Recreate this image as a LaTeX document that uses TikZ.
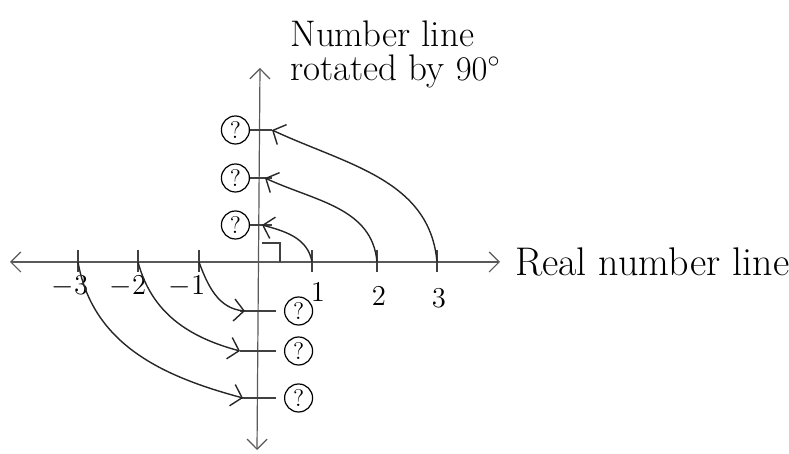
\documentclass[tikz,border=0pt]{standalone}
\usepackage{tikz}
\usetikzlibrary{arrows.meta, positioning}

\begin{document}
\begin{tikzpicture}[
    x=0.5pt, y=0.5pt,
    axis/.style={
      line width=0.6pt,
      black!65,
      {Straight Barb[length=5pt,width=10pt]}-{Straight Barb[length=5pt,width=10pt]}
    },
    tickmark/.style={line width=0.6pt, black!75},
    qmark/.style={
      circle,
      draw,
      line width=0.6pt,
      minimum size=14pt,
      inner sep=0pt,
      font=\large
    },
    turn/.style={
      -{Straight Barb[length=5pt,width=11pt]},
      line width=0.7pt,
      black!85
    },
    numlbl/.style={font=\Large, inner sep=1pt}
  ]
    \useasboundingbox (0,0) rectangle (789,454);

    % Axes
    \coordinate (xl) at (10,192);
    \coordinate (xr) at (500,192);
    \coordinate (yb) at (257,4);
    \coordinate (yt) at (260,386);
    \draw[axis] (xl) -- (xr);
    \draw[axis] (yb) -- (yt);

    % Ticks on the real line
    \foreach \n/\x in {m3/78, m2/138, m1/199, p1/312, p2/377, p3/437} {
      \coordinate (t\n) at (\x,192);
      \draw[tickmark] (\x,182) -- (\x,204);
      \coordinate (b\n) at (\x,182);
    }
    \node[numlbl, below=1pt of bm3, xshift=-4pt] (lm3) {$-3$};
    \node[numlbl, below=1pt of bm2, xshift=-5pt] (lm2) {$-2$};
    \node[numlbl, below=1pt of bm1, xshift=-6pt] (lm1) {$-1$};
    \node[numlbl, below=4pt of bp1, xshift=3pt] (lp1) {1};
    \node[numlbl, below=6pt of bp2, xshift=1pt] (lp2) {2};
    \node[numlbl, below=7pt of bp3, xshift=1pt] (lp3) {3};

    % Ticks on the rotated line
    \foreach \n/\y in {u3/324, u2/276, u1/229} {
      \draw[tickmark] (250,\y) -- (272,\y);
      \coordinate (\n l) at (250,\y);
    }
    \foreach \n/\y in {d1/143, d2/103, d3/56} {
      \draw[tickmark] (240,\y) -- (276,\y);
      \coordinate (\n r) at (276,\y);
    }

    % Unknown points
    \node[qmark, left=0pt of u3l] (q3) {?};
    \node[qmark, left=0pt of u2l] (q2) {?};
    \node[qmark, left=0pt of u1l] (q1) {?};
    \node[qmark, right=4pt of d1r] (qm1) {?};
    \node[qmark, right=4pt of d2r] (qm2) {?};
    \node[qmark, right=4pt of d3r] (qm3) {?};

    % Right angle
    \draw[tickmark] (262,211) -- (280,211) -- (280,192);

    % Rotations
    \draw[turn] (tp1) to[out=100, in=-15] (262,229);
    \draw[turn] (tp2) to[out=95, in=-25] (265,276);
    \draw[turn] (tp3) to[out=95, in=-25] (272,324);
    \draw[turn] (tm1) to[out=-70, in=175] (245,143);
    \draw[turn] (tm2) to[out=-75, in=165] (240,103);
    \draw[turn] (tm3) to[out=-80, in=165] (243,56);

    % Labels
    \node[font=\fontsize{18.5}{17}\selectfont, align=left, anchor=north west, inner sep=0pt] (rot)
      at (290,434) {Number line\\rotated by $90^\circ$};
    \node[font=\fontsize{20}{24}\selectfont, right=4pt of xr] (real) {Real number line};

\end{tikzpicture}
\end{document}
